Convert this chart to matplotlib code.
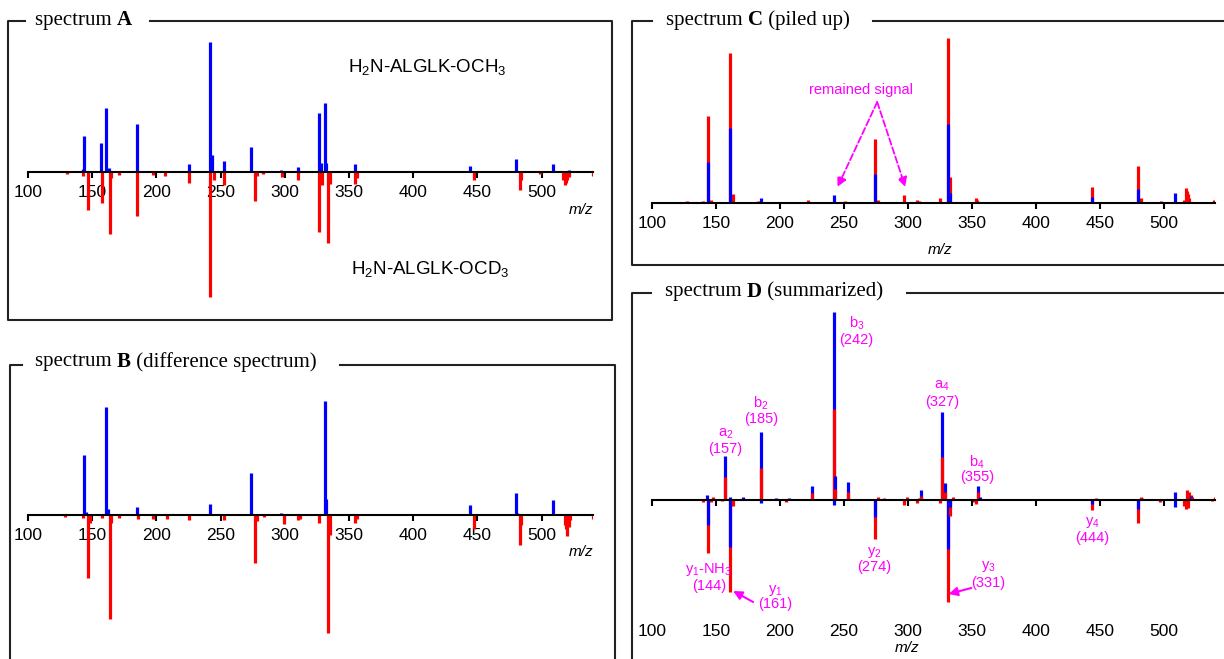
import matplotlib
matplotlib.use('Agg')
import matplotlib.pyplot as plt
from matplotlib.lines import Line2D

W, H = 1224, 659
BLUE, RED, MAG = '#0000ff', '#ff0000', '#ff00ff'

# ---- spectrum A (blue: OCH3 up, red: OCD3 down) ----
A_blue_mz = [143, 144, 157, 161, 163, 185, 225, 242, 243, 253, 274, 297, 310, 327, 328, 331, 332, 355, 444, 480, 509, 521]
A_blue_int = [3, 36, 29, 64, 4, 48, 8, 130, 17, 11, 25, 2, 5, 59, 9, 69, 9, 8, 6, 13, 8, 2]
A_red_mz = [130, 143, 147, 158, 164, 165, 171, 185, 197, 207, 225, 242, 245, 253, 277, 278, 283, 298, 310,
            327, 329, 334, 335, 355, 356, 447, 483, 484, 499, 517, 518, 519, 520, 521, 540]
A_red_int = [2, 4, 38, 31, 62, 6, 3, 44, 3, 4, 11, 125, 8, 13, 29, 4, 2, 5, 8,
             60, 13, 71, 12, 12, 6, 8, 18, 8, 2, 8, 13, 11, 8, 5, 4]

# ---- spectrum B (difference) ----
B_blue_mz = [144, 145, 161, 162, 185, 242, 274, 297, 331, 332, 444, 480, 481, 497, 509]
B_blue_int = [60, 3, 108, 6, 8, 11, 42, 2, 114, 16, 10, 22, 2, 1, 15]
B_red_mz = [129, 143, 147, 148, 158, 164, 165, 171, 186, 197, 208, 225, 253, 277, 278, 284, 299, 310, 312,
            327, 334, 335, 355, 356, 447, 483, 484, 518, 519, 520, 521, 522, 540]
B_red_int = [2, 3, 63, 8, 3, 104, 8, 3, 4, 4, 4, 5, 5, 48, 6, 2, 9, 5, 4,
             8, 118, 20, 8, 4, 14, 30, 10, 10, 14, 21, 12, 5, 4]

# ---- spectrum C (piled up): red = total, blue = lower part ----
C_red_mz = [127, 140, 144, 146, 155, 161, 163, 168, 183, 194, 205, 222, 251, 274, 277, 281, 297, 307, 309,
            325, 331, 333, 353, 354, 444, 480, 482, 498, 516, 517, 518, 519, 520, 539]
C_red_int = [2, 2, 87, 3, 1, 150, 9, 1, 2, 1, 1, 3, 2, 64, 3, 1, 8, 3, 2,
             5, 165, 26, 5, 3, 16, 37, 5, 2, 3, 15, 12, 9, 5, 3]
C_blue_mz = [144, 161, 185, 242, 274, 331, 333, 444, 480, 509]
C_blue_int = [41, 75, 5, 8, 29, 79, 10, 6, 14, 10]

# ---- spectrum D (summarized), signed values ----
D_blue_mz = [143, 144, 157, 161, 161, 171, 185, 185, 197, 207, 225, 242, 242, 243, 253, 274, 310,
             327, 329, 331, 333, 355, 356, 444, 480, 509, 509, 521]
D_blue_int = [5, -25, 44, 3, -47, 3, 68, -3, 2, 2, 14, 188, -5, 24, 18, -17, 10,
              88, 17, -49, -7, 14, 3, -4, -9, 8, -7, 4]
D_red_mz = [127, 140, 146, 148, 155, 144, 157, 161, 163, 185, 205, 225, 242, 243, 253, 274, 277, 281,
            297, 299, 307, 309, 310, 325, 327, 329, 331, 333, 335, 352, 353, 355, 444, 447, 480, 482,
            483, 497, 516, 517, 518, 519, 520, 521, 522, 538, 540]
D_red_int = [1, -2, -2, 3, -1, -53, 23, -92, -6, 32, -2, 7, 91, 11, 8, -39, 3, 2,
             -5, 3, -3, 2, 4, -3, 43, 8, -102, -16, 3, -2, -4, 8, -10, 2, -23, 3,
             2, -2, -6, -9, 10, -8, 8, 5, 3, -1, 3]

# fragment labels in D: x, y of name, name, y of number, number
D_labels = [
    (157.5, 66, 'a$_2$', 51, '(157)'),
    (185.3, 97, 'b$_2$', 81, '(185)'),
    (259.7, 177, 'b$_3$', 160, '(242)'),
    (326.4, 114, 'a$_4$', 98, '(327)'),
    (354.0, 38, 'b$_4$', 23, '(355)'),
    (144.4, -70, 'y$_1$-NH$_3$', -86, '(144)'),
    (196.0, -90, 'y$_1$', -104, '(161)'),
    (274.0, -52, 'y$_2$', -67, '(274)'),
    (362.8, -67, 'y$_3$', -83, '(331)'),
    (444.3, -23, 'y$_4$', -38, '(444)'),
]

plt.rcParams['font.family'] = ['Liberation Sans', 'DejaVu Sans']
plt.rcParams['mathtext.fontset'] = 'custom'
plt.rcParams['mathtext.rm'] = 'Liberation Sans'
plt.rcParams['mathtext.it'] = 'Liberation Sans:italic'
plt.rcParams['mathtext.bf'] = 'Liberation Sans:bold'

fig = plt.figure(figsize=(W / 100, H / 100), dpi=100)
renderer = fig.canvas.get_renderer()


def panel(l, r, top, bot, axis_y, pad=5.5):
    ax = fig.add_axes([l / W, 1 - bot / H, (r - l) / W, (bot - top) / H])
    ax.set_xlim(100, 540)
    ax.set_ylim(-(bot - axis_y), axis_y - top)
    for s in ['top', 'left', 'right']:
        ax.spines[s].set_visible(False)
    ax.spines['bottom'].set_position(('data', 0))
    ax.spines['bottom'].set_linewidth(1.5)
    ax.set_yticks([])
    ax.set_xticks(range(100, 501, 50))
    ax.tick_params(axis='x', direction='out', length=4, width=1.5, labelsize=12.5, pad=pad)
    ax.patch.set_visible(False)
    return ax


def frame(pts):
    xs = [p[0] / W for p in pts]
    ys = [1 - p[1] / H for p in pts]
    fig.add_artist(Line2D(xs, ys, color='#222222', lw=1.5))


def title(x, y, parts):
    for txt, weight in parts:
        t = fig.text(x / W, 1 - y / H, txt, family='Liberation Serif', fontsize=15,
                     fontweight=weight, va='center', ha='left')
        x += t.get_window_extent(renderer).width


def mz_label(ax, x, y):
    ax.text(x, y, 'm/z', fontstyle='italic', fontsize=11, ha='center', va='center')


# spectrum A
axA = panel(28, 593, 30, 305, 172)
axA.vlines(A_blue_mz, 0, A_blue_int, colors=BLUE, lw=2.3)
axA.vlines(A_red_mz, 0, [-v for v in A_red_int], colors=RED, lw=2.3)
axA.text(411, 105, 'H$_2$N-ALGLK-OCH$_3$', fontsize=13.5, ha='center', va='center')
axA.text(413, -97, 'H$_2$N-ALGLK-OCD$_3$', fontsize=13.5, ha='center', va='center')
mz_label(axA, 531, -38)
frame([(25, 21), (8, 21), (8, 320), (612, 320), (612, 21), (150, 21)])
title(35, 20, [('spectrum ', 'normal'), ('A', 'bold')])

# spectrum B
axB = panel(28, 593, 380, 655, 515)
axB.vlines(B_blue_mz, 0, B_blue_int, colors=BLUE, lw=2.3)
axB.vlines(B_red_mz, 0, [-v for v in B_red_int], colors=RED, lw=2.3)
mz_label(axB, 531, -37)
frame([(22, 365), (10, 365), (10, 660)])
frame([(340, 365), (615, 365), (615, 660)])
title(35, 362, [('spectrum ', 'normal'), ('B', 'bold'), (' (difference spectrum)', 'normal')])

# spectrum C
axC = panel(652, 1215, 28, 258, 203)
axC.vlines(C_red_mz, 0, C_red_int, colors=RED, lw=2.3)
axC.vlines(C_blue_mz, 0, C_blue_int, colors=BLUE, lw=2.3)
mz_label(axC, 325, -47)
axC.text(263, 113, 'remained signal', color=MAG, fontsize=10.5, ha='center', va='center')
for tip in [(245, 16), (298, 16)]:
    axC.annotate('', xy=tip, xytext=(276, 101),
                 arrowprops=dict(arrowstyle='-|>', color=MAG, lw=1.3, linestyle='--',
                                 mutation_scale=14, shrinkA=0, shrinkB=0))
frame([(652, 21), (632, 21), (632, 265), (1224, 265)])
frame([(873, 21), (1224, 21)])
title(666, 20, [('spectrum ', 'normal'), ('C', 'bold'), (' (piled up)', 'normal')])

# spectrum D
axD = panel(652, 1215, 300, 655, 500, pad=85)
segs = [(m, v, BLUE) for m, v in zip(D_blue_mz, D_blue_int)] + \
       [(m, v, RED) for m, v in zip(D_red_mz, D_red_int)]
segs.sort(key=lambda s: -abs(s[1]))
axD.vlines([s[0] for s in segs], 0, [s[1] for s in segs], colors=[s[2] for s in segs], lw=2.3)
for x, yn, name, ynum, num in D_labels:
    axD.text(x, yn, name, color=MAG, fontsize=10.5, ha='center', va='center')
    axD.text(x, ynum, num, color=MAG, fontsize=10.5, ha='center', va='center')
for start, tip in [((179, -102), (163.4, -91)), ((349.5, -88), (331.8, -94))]:
    axD.annotate('', xy=tip, xytext=start,
                 arrowprops=dict(arrowstyle='-|>', color=MAG, lw=1.5,
                                 mutation_scale=13, shrinkA=0, shrinkB=0))
mz_label(axD, 299, -148)
frame([(651, 293), (632, 293), (632, 660)])
frame([(907, 293), (1224, 293)])
title(665, 292, [('spectrum ', 'normal'), ('D', 'bold'), (' (summarized)', 'normal')])

fig.savefig('out.png', dpi=100)
